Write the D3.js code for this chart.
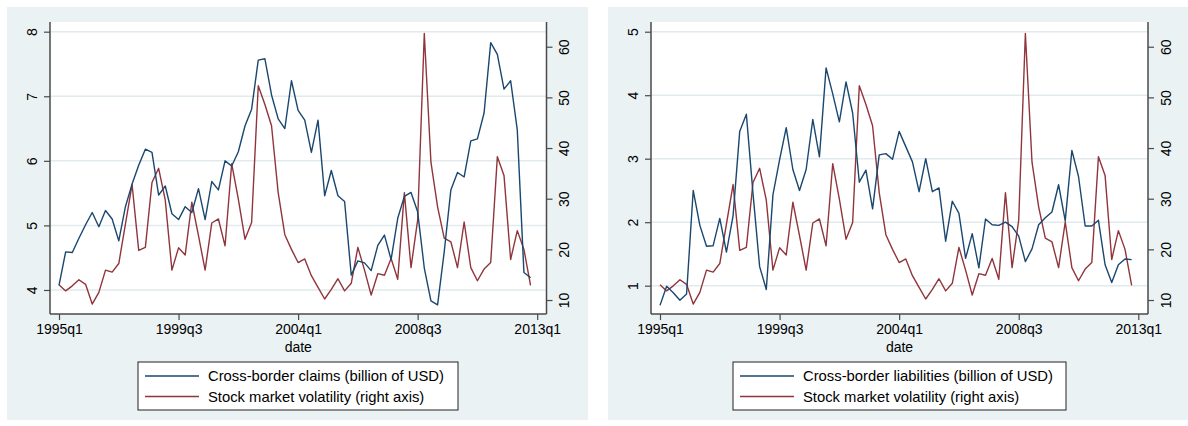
<!DOCTYPE html>
<html>
<head>
<meta charset="utf-8">
<script src="https://cdn.jsdelivr.net/npm/d3@7"></script>
<style>
  html, body { margin: 0; padding: 0; background: #ffffff; }
  svg { display: block; }
  text { font-family: "Liberation Sans", Arial, sans-serif; fill: #000; }
</style>
</head>
<body>
<svg id="chart" width="1188" height="426"></svg>
<script>
// ---------- data ----------
const quarters = [
  "1995q1","1995q2","1995q3","1995q4","1996q1","1996q2","1996q3","1996q4",
  "1997q1","1997q2","1997q3","1997q4","1998q1","1998q2","1998q3","1998q4",
  "1999q1","1999q2","1999q3","1999q4","2000q1","2000q2","2000q3","2000q4",
  "2001q1","2001q2","2001q3","2001q4","2002q1","2002q2","2002q3","2002q4",
  "2003q1","2003q2","2003q3","2003q4","2004q1","2004q2","2004q3","2004q4",
  "2005q1","2005q2","2005q3","2005q4","2006q1","2006q2","2006q3","2006q4",
  "2007q1","2007q2","2007q3","2007q4","2008q1","2008q2","2008q3","2008q4",
  "2009q1","2009q2","2009q3","2009q4","2010q1","2010q2","2010q3","2010q4",
  "2011q1","2011q2","2011q3","2011q4","2012q1","2012q2","2012q3","2012q4"
];

const crossBorderClaims = [
  4.07,4.59,4.58,4.80,5.01,5.20,4.98,5.23,5.10,4.76,5.29,5.64,
  5.93,6.18,6.13,5.47,5.61,5.18,5.09,5.29,5.20,5.57,5.09,5.68,
  5.55,6.00,5.92,6.14,6.54,6.80,7.56,7.58,7.02,6.65,6.50,7.24,
  6.78,6.63,6.13,6.63,5.46,5.85,5.46,5.37,4.23,4.45,4.42,4.30,
  4.69,4.85,4.47,5.11,5.45,5.51,5.21,4.34,3.83,3.77,4.59,5.55,
  5.82,5.75,6.31,6.34,6.74,7.83,7.65,7.11,7.24,6.48,4.27,4.19
];

const crossBorderLiabilities = [
  0.69,0.99,0.89,0.77,0.87,2.50,1.95,1.62,1.63,2.06,1.53,2.10,
  3.43,3.70,2.45,1.30,0.94,2.43,2.98,3.49,2.83,2.50,2.83,3.62,
  3.03,4.43,4.02,3.58,4.21,3.72,2.63,2.82,2.21,3.06,3.08,2.99,
  3.43,3.19,2.95,2.48,3.00,2.48,2.54,1.70,2.33,2.14,1.43,1.82,
  1.28,2.05,1.96,1.95,2.00,1.93,1.78,1.38,1.58,1.96,2.07,2.16,
  2.59,2.02,3.13,2.72,1.94,1.94,2.03,1.33,1.05,1.33,1.42,1.41
];

const stockVolatility = [
  13.0,11.8,12.8,14.0,13.1,9.2,11.5,15.9,15.5,17.2,25.0,32.8,
  19.8,20.4,33.2,36.0,29.7,15.9,20.3,18.9,29.3,22.7,15.9,25.2,
  26.0,20.7,36.9,29.9,22.0,25.3,52.3,48.6,44.4,31.2,22.9,20.0,
  17.4,18.1,14.8,12.5,10.2,12.1,14.2,11.8,13.3,20.4,15.9,11.0,
  15.2,14.9,18.2,14.1,31.2,16.4,25.8,62.6,37.2,28.4,22.2,21.5,
  16.4,25.4,16.4,13.8,16.1,17.4,38.3,34.6,18.0,23.7,20.0,12.9
];

const xTickLabels = ["1995q1","1999q3","2004q1","2008q3","2013q1"];
const leftTicksClaims = [4,5,6,7,8];
const leftTicksLiab = [1,2,3,4,5];
const rightTicks = [10,20,30,40,50,60];
const xAxisTitle = "date";
const legendClaims = ["Cross-border claims (billion of USD)", "Stock market volatility (right axis)"];
const legendLiab = ["Cross-border liabilities (billion of USD)", "Stock market volatility (right axis)"];

// ---------- style ----------
const BG = "#eaf2f3";
const BLUE = "#1a476f";
const RED = "#90353b";
const GRID = "#e1eaed";
const AXIS = "#4a4a4a";

const svg = d3.select("#chart");
const qIndex = q => (+q.slice(0,4) - 1995) * 4 + (+q.slice(5) - 1);

function panel(cfg) {
  const g = svg.append("g");
  g.append("rect").attr("x", cfg.ox).attr("y", 7).attr("width", cfg.ow).attr("height", 413).attr("fill", BG);
  const L = cfg.px0, R = cfg.px1, T = 22, B = 314;
  g.append("rect").attr("x", L).attr("y", T).attr("width", R - L).attr("height", B - T).attr("fill", "#fff");

  const x = d3.scaleLinear().domain(cfg.xdom).range([L, R]);
  const yL = d3.scaleLinear().domain(cfg.yLdom).range([B, T]);
  const yR = d3.scaleLinear().domain([7.24, 64.88]).range([B, T]);

  // gridlines
  g.append("g").selectAll("line").data(cfg.leftTicks).join("line")
    .attr("x1", L).attr("x2", R)
    .attr("y1", d => yL(d)).attr("y2", d => yL(d))
    .attr("stroke", GRID).attr("stroke-width", 1.5);

  // lines
  const lineL = d3.line().x((d, i) => x(i)).y(d => yL(d));
  const lineR = d3.line().x((d, i) => x(i)).y(d => yR(d));
  g.append("path").datum(stockVolatility).attr("d", lineR)
    .attr("fill", "none").attr("stroke", RED).attr("stroke-width", 1.4).attr("stroke-linejoin", "round");
  g.append("path").datum(cfg.series).attr("d", lineL)
    .attr("fill", "none").attr("stroke", BLUE).attr("stroke-width", 1.4).attr("stroke-linejoin", "round");

  // left axis
  const axL = g.append("g").attr("transform", `translate(${L},0)`)
    .call(d3.axisLeft(yL).tickValues(cfg.leftTicks).tickSize(6).tickPadding(0).tickFormat(d3.format("d")));
  axL.select(".domain").attr("d", `M0,${T}V${B}`).attr("stroke", AXIS).attr("stroke-width", 1.5);
  axL.selectAll(".tick line").attr("stroke", AXIS).attr("stroke-width", 1.2);
  axL.selectAll(".tick text").attr("transform", "translate(-18,0) rotate(-90)")
    .attr("text-anchor", "middle").attr("dy", "0.35em").attr("x", 0)
    .style("font-size", "14px").style("font-family", "Liberation Sans, Arial, sans-serif");

  // right axis
  const axR = g.append("g").attr("transform", `translate(${R},0)`)
    .call(d3.axisRight(yR).tickValues(rightTicks).tickSize(6).tickPadding(0).tickFormat(d3.format("d")));
  axR.select(".domain").attr("d", `M0,${T}V${B}`).attr("stroke", AXIS).attr("stroke-width", 1.5);
  axR.selectAll(".tick line").attr("stroke", AXIS).attr("stroke-width", 1.2);
  axR.selectAll(".tick text").attr("transform", "translate(18,0) rotate(-90)")
    .attr("text-anchor", "middle").attr("dy", "0.35em").attr("x", 0)
    .style("font-size", "14px").style("font-family", "Liberation Sans, Arial, sans-serif");

  // bottom axis
  const axB = g.append("g").attr("transform", `translate(0,${B})`)
    .call(d3.axisBottom(x).tickValues(xTickLabels.map(qIndex)).tickSize(6).tickPadding(4)
      .tickFormat(v => xTickLabels[xTickLabels.map(qIndex).indexOf(v)]));
  axB.select(".domain").attr("d", `M${L},0H${R}`).attr("stroke", AXIS).attr("stroke-width", 1.5);
  axB.selectAll(".tick line").attr("stroke", AXIS).attr("stroke-width", 1.2);
  axB.selectAll(".tick text").style("font-size", "14px").style("font-family", "Liberation Sans, Arial, sans-serif");

  g.append("text").attr("x", (L + R) / 2).attr("y", 352).attr("text-anchor", "middle")
    .style("font-size", "14px").text(xAxisTitle);

  // legend
  const lx0 = cfg.legX0, lx1 = cfg.legX1;
  g.append("rect").attr("x", lx0).attr("y", 362).attr("width", lx1 - lx0).attr("height", 48)
    .attr("fill", "#fff").attr("stroke", "#222").attr("stroke-width", 1);
  const items = [{c: BLUE, t: cfg.legend[0]}, {c: RED, t: cfg.legend[1]}];
  items.forEach((it, k) => {
    const yy = 376 + k * 20.5;
    g.append("line").attr("x1", lx0 + 7).attr("x2", lx0 + 61).attr("y1", yy).attr("y2", yy)
      .attr("stroke", it.c).attr("stroke-width", 1.4);
    g.append("text").attr("x", lx0 + 70).attr("y", yy).attr("dy", "0.35em")
      .style("font-size", "14.8px").text(it.t);
  });
}

panel({ ox: 7, ow: 581, px0: 50, px1: 546.5, xdom: [-1.356, 73.4], yLdom: [3.628, 8.150],
        leftTicks: leftTicksClaims, series: crossBorderClaims, legend: legendClaims, legX0: 138, legX1: 458 });
panel({ ox: 608, ow: 580, px0: 651, px1: 1148, xdom: [-1.355, 73.46], yLdom: [0.554, 5.153],
        leftTicks: leftTicksLiab, series: crossBorderLiabilities, legend: legendLiab, legX0: 733, legX1: 1066 });
</script>
</body>
</html>
